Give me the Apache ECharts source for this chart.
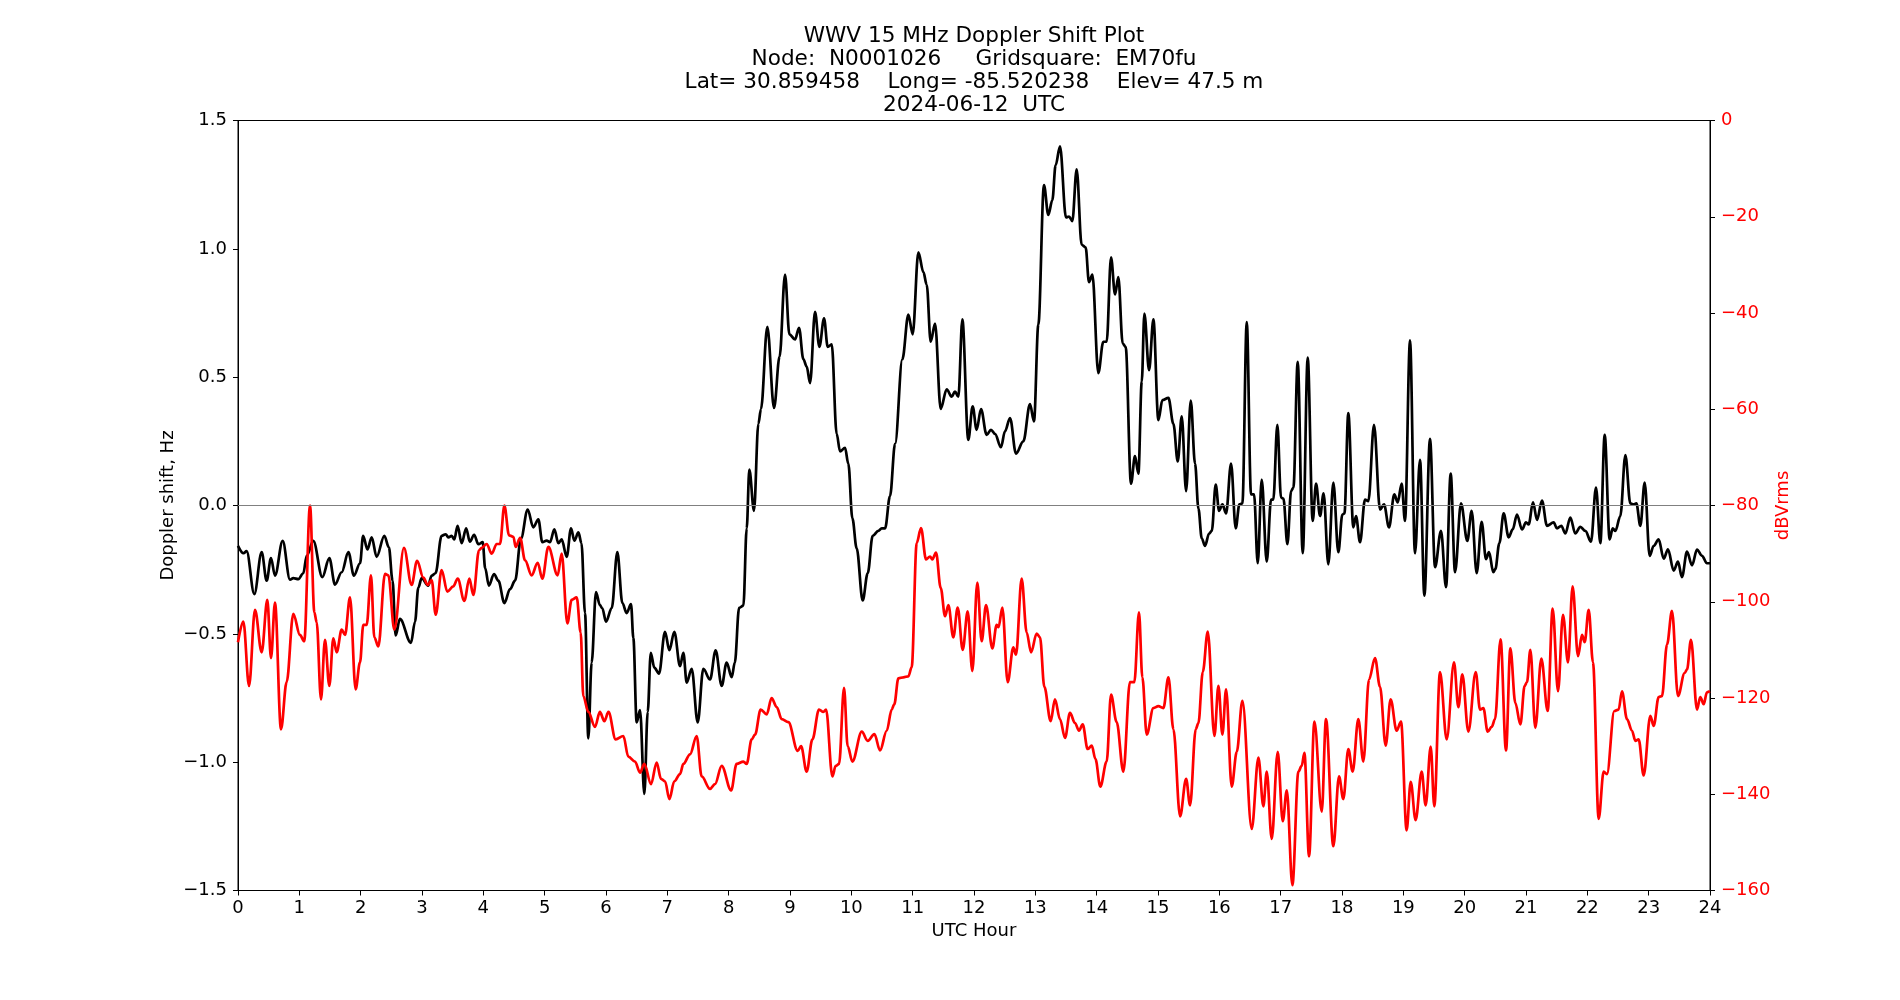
<!DOCTYPE html>
<html>
<head>
<meta charset="utf-8">
<script src="https://cdn.jsdelivr.net/npm/echarts@6/dist/echarts.min.js"></script>
<style>
html,body{margin:0;padding:0;background:#fff;}
#chart{width:1900px;height:1000px;}
</style>
</head>
<body>
<div id="chart"></div>
<script>
// ---- Data ----
const titleLines = [
  "WWV 15 MHz Doppler Shift Plot",
  "Node:  N0001026     Gridsquare:  EM70fu",
  "Lat= 30.859458    Long= -85.520238    Elev= 47.5 m",
  "2024-06-12  UTC"
];
const xTicks = [0,1,2,3,4,5,6,7,8,9,10,11,12,13,14,15,16,17,18,19,20,21,22,23,24];

// Doppler shift (Hz) — black line, left axis
const dopplerHours = [0.0,0.09,0.14,0.266,0.386,0.467,0.538,0.603,0.728,0.848,0.902,0.984,1.065,1.12,1.228,1.375,1.489,1.582,1.69,1.80,1.89,1.99,2.04,2.11,2.18,2.26,2.386,2.46,2.52,2.57,2.64,2.82,2.886,2.94,2.995,3.1,3.158,3.22,3.32,3.386,3.43,3.484,3.527,3.58,3.647,3.72,3.78,3.85,3.92,3.99,4.03,4.09,4.174,4.245,4.343,4.435,4.517,4.614,4.723,4.815,4.897,4.962,5.033,5.087,5.158,5.223,5.277,5.359,5.43,5.484,5.55,5.6,5.658,5.712,5.766,5.837,5.9,5.94,6.0,6.093,6.185,6.267,6.337,6.408,6.446,6.5,6.555,6.625,6.68,6.73,6.788,6.864,6.962,7.033,7.114,7.207,7.261,7.316,7.397,7.495,7.587,7.696,7.788,7.886,7.967,8.05,8.1,8.17,8.24,8.294,8.337,8.413,8.484,8.527,8.63,8.74,8.83,8.919,8.99,9.082,9.147,9.218,9.272,9.327,9.408,9.479,9.555,9.615,9.68,9.761,9.816,9.897,9.951,10.017,10.087,10.185,10.267,10.348,10.44,10.495,10.55,10.631,10.713,10.832,10.93,11.0,11.093,11.175,11.229,11.294,11.365,11.457,11.555,11.636,11.69,11.745,11.81,11.907,11.978,12.043,12.114,12.206,12.277,12.342,12.44,12.505,12.587,12.685,12.804,12.913,12.978,13.049,13.141,13.212,13.277,13.331,13.402,13.5,13.549,13.603,13.674,13.755,13.82,13.875,13.93,14.027,14.108,14.163,14.234,14.3,14.353,14.424,14.473,14.56,14.625,14.68,14.735,14.778,14.854,14.925,15.006,15.072,15.17,15.251,15.322,15.387,15.458,15.534,15.604,15.659,15.713,15.767,15.833,15.877,15.941,15.996,16.05,16.11,16.191,16.267,16.327,16.376,16.447,16.517,16.566,16.626,16.691,16.773,16.843,16.88,16.946,17.006,17.045,17.11,17.17,17.208,17.278,17.36,17.441,17.522,17.577,17.642,17.7,17.777,17.859,17.94,18.006,18.04,18.103,18.185,18.228,18.294,18.375,18.43,18.522,18.62,18.685,18.766,18.853,18.908,18.973,19.027,19.109,19.19,19.272,19.343,19.435,19.517,19.614,19.696,19.772,19.843,19.94,20.043,20.114,20.196,20.277,20.348,20.397,20.467,20.5,20.565,20.636,20.717,20.783,20.853,20.935,21.0,21.043,21.114,21.18,21.26,21.342,21.451,21.505,21.576,21.641,21.723,21.804,21.886,21.967,22.06,22.141,22.212,22.283,22.364,22.413,22.457,22.538,22.62,22.701,22.755,22.8,22.864,22.935,23.016,23.082,23.163,23.245,23.315,23.408,23.478,23.543,23.625,23.707,23.788,23.87,23.95,24.0];
const dopplerHz = [-0.157,-0.186,-0.178,-0.345,-0.182,-0.293,-0.205,-0.273,-0.138,-0.289,-0.283,-0.287,-0.264,-0.196,-0.138,-0.279,-0.205,-0.308,-0.26,-0.182,-0.273,-0.225,-0.118,-0.171,-0.124,-0.2,-0.118,-0.163,-0.293,-0.506,-0.442,-0.535,-0.453,-0.32,-0.283,-0.312,-0.273,-0.264,-0.118,-0.112,-0.124,-0.118,-0.132,-0.079,-0.147,-0.089,-0.141,-0.114,-0.151,-0.143,-0.244,-0.312,-0.267,-0.293,-0.38,-0.326,-0.293,-0.128,-0.016,-0.085,-0.054,-0.143,-0.137,-0.143,-0.093,-0.147,-0.132,-0.2,-0.089,-0.137,-0.105,-0.147,-0.419,-0.907,-0.612,-0.337,-0.388,-0.401,-0.453,-0.4,-0.182,-0.38,-0.419,-0.384,-0.516,-0.845,-0.797,-1.124,-0.804,-0.574,-0.632,-0.655,-0.492,-0.564,-0.492,-0.626,-0.574,-0.69,-0.636,-0.845,-0.636,-0.678,-0.564,-0.703,-0.612,-0.669,-0.612,-0.399,-0.39,-0.089,0.14,-0.021,0.318,0.376,0.696,0.38,0.58,0.9,0.667,0.647,0.692,0.57,0.541,0.477,0.754,0.618,0.729,0.618,0.628,0.279,0.211,0.225,0.163,-0.05,-0.167,-0.37,-0.264,-0.118,-0.099,-0.089,-0.089,0.037,0.24,0.57,0.744,0.667,0.986,0.909,0.86,0.638,0.709,0.376,0.453,0.424,0.444,0.424,0.725,0.256,0.386,0.295,0.376,0.275,0.295,0.279,0.227,0.289,0.341,0.202,0.25,0.395,0.328,0.705,1.248,1.132,1.19,1.326,1.399,1.122,1.126,1.108,1.31,1.016,1.006,0.87,0.9,0.516,0.638,0.638,0.967,0.822,0.89,0.632,0.618,0.085,0.192,0.124,0.483,0.748,0.527,0.725,0.333,0.411,0.419,0.318,0.172,0.347,0.056,0.409,0.163,-0.012,-0.128,-0.157,-0.109,-0.099,0.081,-0.021,0.004,-0.031,0.163,-0.089,0.004,0.008,0.715,0.043,0.043,-0.225,0.101,-0.219,0.023,0.023,0.314,0.031,0.027,-0.151,0.056,0.07,0.56,-0.186,0.576,-0.06,0.085,-0.041,0.047,-0.229,0.089,-0.182,-0.035,-0.031,0.36,-0.085,-0.041,-0.143,0.023,0.017,0.314,-0.016,0.004,-0.085,0.043,0.012,0.085,-0.06,0.643,-0.186,0.178,-0.351,0.26,-0.24,-0.099,-0.318,0.124,-0.26,0.008,-0.138,-0.021,-0.264,-0.064,-0.209,-0.182,-0.26,-0.248,-0.147,-0.031,-0.124,-0.093,-0.035,-0.093,-0.066,-0.074,0.012,-0.056,0.019,-0.079,-0.066,-0.089,-0.079,-0.109,-0.047,-0.109,-0.083,-0.099,-0.141,0.07,-0.147,0.275,-0.132,-0.089,-0.099,-0.041,0.196,0.008,0.004,0.008,-0.079,0.089,-0.196,-0.157,-0.132,-0.207,-0.171,-0.254,-0.219,-0.279,-0.18,-0.233,-0.172,-0.196,-0.225,-0.225];

// Signal level (dBVrms) — red line, right axis
const powerHours = [0.0,0.087,0.18,0.277,0.386,0.478,0.538,0.603,0.701,0.793,0.902,1.01,1.08,1.174,1.245,1.283,1.353,1.418,1.489,1.554,1.609,1.69,1.745,1.826,1.918,1.989,2.043,2.098,2.168,2.223,2.288,2.397,2.451,2.549,2.706,2.83,2.92,3.022,3.093,3.158,3.223,3.32,3.413,3.51,3.582,3.69,3.772,3.837,3.93,3.973,4.055,4.136,4.218,4.272,4.343,4.419,4.49,4.527,4.6,4.68,4.788,4.886,4.962,5.06,5.212,5.277,5.37,5.44,5.522,5.587,5.63,5.712,5.82,5.9,5.973,6.04,6.158,6.283,6.364,6.473,6.555,6.625,6.734,6.826,6.897,6.962,7.033,7.114,7.207,7.261,7.37,7.478,7.56,7.696,7.777,7.886,8.04,8.13,8.24,8.294,8.375,8.43,8.522,8.62,8.7,8.783,8.865,8.973,9.126,9.18,9.272,9.365,9.473,9.544,9.588,9.691,9.745,9.8,9.881,9.94,10.017,10.17,10.267,10.376,10.468,10.577,10.658,10.7,10.767,10.849,10.93,10.984,11.066,11.136,11.218,11.283,11.32,11.381,11.457,11.528,11.582,11.663,11.734,11.816,11.897,11.973,12.054,12.125,12.196,12.299,12.37,12.4,12.462,12.549,12.641,12.685,12.777,12.859,12.93,13.022,13.076,13.147,13.25,13.32,13.402,13.484,13.565,13.647,13.712,13.772,13.853,13.92,13.98,14.06,14.163,14.234,14.326,14.435,14.543,14.614,14.69,14.745,14.816,14.925,15.006,15.088,15.17,15.251,15.36,15.458,15.523,15.615,15.659,15.73,15.811,15.92,15.985,16.05,16.11,16.202,16.284,16.376,16.528,16.637,16.718,16.773,16.854,16.952,17.034,17.1,17.191,17.289,17.343,17.387,17.463,17.55,17.67,17.739,17.859,17.951,18.022,18.103,18.174,18.266,18.348,18.44,18.538,18.62,18.712,18.793,18.891,18.962,19.054,19.12,19.2,19.299,19.364,19.446,19.505,19.598,19.707,19.826,19.897,19.962,20.06,20.18,20.25,20.305,20.375,20.44,20.495,20.585,20.674,20.745,20.826,20.908,20.978,21.016,21.071,21.152,21.25,21.353,21.435,21.522,21.603,21.685,21.76,21.848,21.913,21.957,22.022,22.092,22.185,22.266,22.32,22.44,22.51,22.565,22.647,22.728,22.783,22.837,22.918,23.027,23.082,23.163,23.217,23.299,23.38,23.478,23.587,23.625,23.69,23.788,23.842,23.897,23.95,24.0];
const powerDb = [-108.4,-104.1,-117.5,-101.7,-110.5,-99.6,-111.7,-100.2,-126.5,-116.7,-102.5,-106.9,-108.2,-80.0,-102.2,-104.3,-120.3,-107.9,-117.5,-107.6,-110.5,-105.8,-106.9,-99.1,-118.2,-112.6,-104.8,-104.8,-94.5,-107.4,-109.3,-94.2,-94.5,-105.8,-88.8,-96.5,-91.5,-95.0,-96.5,-95.5,-102.7,-93.4,-97.9,-96.8,-95.2,-99.8,-95.2,-98.6,-89.3,-88.8,-88.0,-90.0,-88.0,-88.0,-80.0,-86.2,-86.5,-88.6,-86.7,-91.4,-94.5,-91.9,-95.2,-88.6,-94.5,-90.0,-104.5,-99.6,-99.1,-106.4,-119.6,-122.9,-126.0,-122.9,-124.8,-122.9,-128.6,-127.9,-132.2,-133.2,-135.5,-133.7,-137.9,-133.4,-136.8,-137.3,-141.0,-137.3,-135.8,-133.7,-131.7,-127.9,-136.3,-138.9,-137.9,-134.1,-139.2,-133.7,-133.2,-133.7,-128.6,-127.6,-122.4,-123.4,-120.0,-121.9,-124.4,-125.0,-131.0,-130.0,-135.3,-128.6,-122.4,-122.9,-122.4,-136.3,-134.1,-133.7,-117.9,-130.0,-133.2,-127.0,-128.9,-127.5,-130.9,-126.8,-122.4,-121.3,-115.9,-115.7,-115.5,-113.6,-87.8,-84.7,-91.2,-90.6,-91.2,-89.8,-97.1,-103.0,-100.7,-107.4,-101.2,-110.0,-102.0,-114.4,-96.0,-108.2,-100.7,-109.7,-104.8,-105.3,-101.2,-116.7,-109.5,-111.0,-95.2,-106.4,-110.5,-106.6,-107.4,-117.7,-124.8,-120.3,-124.4,-128.3,-123.1,-125.2,-126.8,-125.5,-130.6,-129.9,-132.7,-138.4,-133.2,-119.3,-125.0,-135.3,-116.7,-116.7,-102.2,-115.7,-127.6,-122.1,-121.7,-122.1,-115.7,-126.5,-144.6,-136.8,-142.3,-126.5,-125.2,-114.6,-106.2,-127.9,-117.5,-127.6,-118.2,-138.4,-131.2,-120.6,-147.2,-132.4,-142.5,-135.3,-149.3,-131.2,-145.6,-139.2,-158.9,-135.3,-134.1,-131.4,-152.9,-124.9,-143.6,-124.4,-150.8,-136.3,-141.0,-130.6,-135.3,-124.4,-133.2,-116.2,-111.7,-117.7,-129.9,-120.3,-126.8,-124.9,-147.5,-137.4,-145.4,-135.3,-142.3,-130.1,-142.5,-114.6,-128.6,-112.6,-121.9,-115.1,-127.0,-114.6,-122.4,-122.1,-127.0,-126.0,-124.4,-107.8,-130.9,-109.7,-121.0,-125.5,-117.5,-116.7,-110.0,-126.2,-111.8,-122.7,-101.4,-118.6,-102.7,-112.6,-96.8,-111.3,-106.9,-108.4,-101.7,-112.6,-145.1,-135.3,-135.8,-122.7,-122.4,-118.6,-124.4,-126.8,-128.9,-128.6,-136.1,-123.7,-125.8,-119.8,-119.6,-108.9,-101.9,-119.6,-114.8,-114.1,-107.9,-122.4,-119.8,-121.3,-118.8,-118.6];

// ---- Build chart ----
const FONT = "'DejaVu Sans', sans-serif";
const minus = s => s.replace('-', '\u2212');
const dopplerData = dopplerHours.map((t, i) => [t, dopplerHz[i]]);
const powerData = powerHours.map((t, i) => [t, powerDb[i]]);

const chart = echarts.init(document.getElementById('chart'), null, {renderer: 'canvas'});
chart.setOption({
  animation: false,
  backgroundColor: '#fff',
  title: {
    text: titleLines.join('\n'),
    left: 974,
    top: 25,
    textAlign: 'center',
    padding: 0,
    textStyle: {fontFamily: FONT, fontSize: 21.6, lineHeight: 23, fontWeight: 'normal', color: '#000'}
  },
  grid: {left: 238, top: 120.5, width: 1472, height: 770, show: true, borderColor: '#000', borderWidth: 1, backgroundColor: 'transparent'},
  xAxis: {
    type: 'value', min: xTicks[0], max: xTicks[xTicks.length - 1], interval: 1,
    name: 'UTC Hour', nameLocation: 'middle', nameGap: 32, nameMoveOverlap: false,
    nameTextStyle: {fontFamily: FONT, fontSize: 18, color: '#000'},
    axisLine: {show: true, onZero: false, lineStyle: {color: '#000', width: 1}},
    axisTick: {show: true, inside: false, length: 5, lineStyle: {color: '#000'}},
    axisLabel: {fontFamily: FONT, fontSize: 18, color: '#000', margin: 9},
    splitLine: {show: false}
  },
  yAxis: [
    {
      type: 'value', min: -1.5, max: 1.5, interval: 0.5, position: 'left',
      name: 'Doppler shift, Hz', nameLocation: 'middle', nameGap: 61, nameMoveOverlap: false,
      nameTextStyle: {fontFamily: FONT, fontSize: 18, color: '#000'},
      axisLine: {show: true, onZero: false, lineStyle: {color: '#000', width: 1}},
      axisTick: {show: true, inside: false, length: 5, lineStyle: {color: '#000'}},
      axisLabel: {fontFamily: FONT, fontSize: 18, color: '#000', margin: 11,
        formatter: v => minus(v.toFixed(1))},
      splitLine: {show: false}
    },
    {
      type: 'value', min: -160, max: 0, interval: 20, position: 'right',
      name: 'dBVrms', nameLocation: 'middle', nameGap: 64, nameMoveOverlap: false,
      nameTextStyle: {fontFamily: FONT, fontSize: 18, color: '#ff0000'},
      axisLine: {show: true, onZero: false, lineStyle: {color: '#000', width: 1}},
      axisTick: {show: true, inside: false, length: 5, lineStyle: {color: '#000'}},
      axisLabel: {fontFamily: FONT, fontSize: 18, color: '#ff0000', margin: 11,
        formatter: v => minus(String(v))},
      splitLine: {show: false}
    }
  ],
  series: [
    {
      name: 'Doppler', type: 'line', yAxisIndex: 0, data: dopplerData,
      showSymbol: false, smooth: 0.35, smoothMonotone: 'x',
      lineStyle: {color: '#000', width: 2.7}, z: 3,
      markLine: {
        silent: true, symbol: 'none', label: {show: false},
        lineStyle: {color: '#808080', width: 1, type: 'solid'},
        data: [{yAxis: 0}]
      }
    },
    {
      name: 'Power', type: 'line', yAxisIndex: 1, data: powerData,
      showSymbol: false, smooth: 0.35, smoothMonotone: 'x',
      lineStyle: {color: '#ff0000', width: 2.7}, z: 4
    }
  ]
});
</script>
</body>
</html>
